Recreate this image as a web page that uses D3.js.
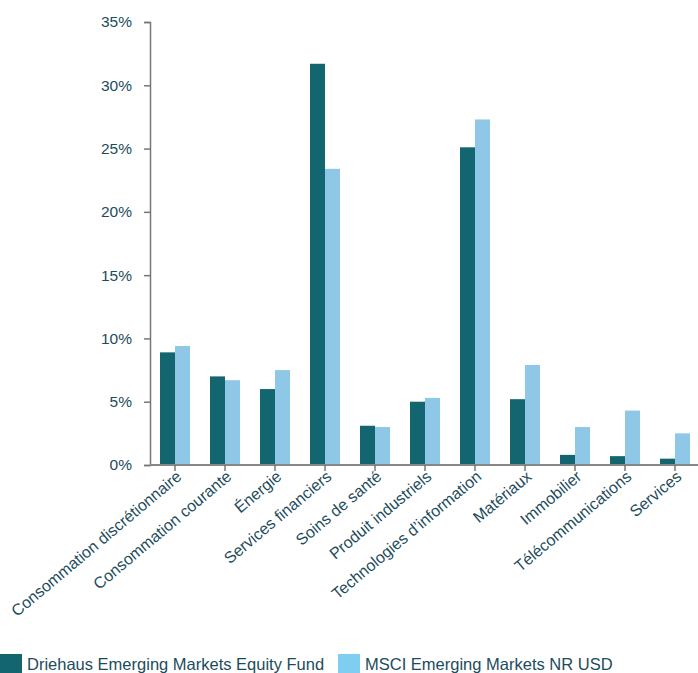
<!DOCTYPE html>
<html>
<head>
<meta charset="utf-8">
<script src="https://cdn.jsdelivr.net/npm/d3@7"></script>
<style>
  body { margin: 0; background: #fff; }
  text { font-family: "Liberation Sans", Arial, sans-serif; }
</style>
</head>
<body>
<div id="chart"></div>
<script>
var categories = ["Consommation discrétionnaire", "Consommation courante", "Énergie",
    "Services financiers", "Soins de santé", "Produit industriels",
    "Technologies d\u2019information", "Matériaux", "Immobilier",
    "Télécommunications", "Services"];
var seriesNames = ["Driehaus Emerging Markets Equity Fund", "MSCI Emerging Markets NR USD"];
var fundValues  = [8.9, 7.0, 6.0, 31.7, 3.1, 5.0, 25.1, 5.2, 0.8, 0.7, 0.5];
var indexValues = [9.4, 6.7, 7.5, 23.4, 3.0, 5.3, 27.3, 7.9, 3.0, 4.3, 2.5];
var yTicks = [0, 5, 10, 15, 20, 25, 30, 35];

var width = 698, height = 673;
var margin = {top: 22, right: 0, bottom: 208, left: 150};
var textColor = "#1c4c5c";
var barColors = ["#13666f", "#8fc8e6"];
var legendColors = ["#13666f", "#7fcdf0"];
var fontStack = "'Liberation Sans', Arial, sans-serif";

var svg = d3.select("#chart").append("svg")
    .attr("width", width)
    .attr("height", height);

//////// SCALES ////////
var x0 = d3.scaleBand()
    .domain(categories)
    .range([margin.left, 700])
    .paddingInner(0.4)
    .paddingOuter(0.2);

var x1 = d3.scaleBand()
    .domain([0, 1])
    .range([0, x0.bandwidth()]);

var y = d3.scaleLinear()
    .domain([0, 35])
    .range([height - margin.bottom, margin.top]);

var rows = categories.map(function(c, i) { return {cat: c, values: [fundValues[i], indexValues[i]]}; });

//////// BARS ////////
svg.append("g")
  .selectAll("g")
  .data(rows)
  .enter().append("g")
    .attr("transform", function(d) { return "translate(" + x0(d.cat) + ",0)"; })
  .selectAll("rect")
  .data(function(d) { return d.values.map(function(v, k) { return {k: k, v: v}; }); })
  .enter().append("rect")
    .attr("x", function(d) { return x1(d.k); })
    .attr("y", function(d) { return y(d.v); })
    .attr("width", x1.bandwidth())
    .attr("height", function(d) { return y(0) - y(d.v); })
    .attr("fill", function(d) { return barColors[d.k]; });

//////// AXES ////////
var yAxis = svg.append("g")
    .attr("transform", "translate(" + margin.left + ",0)")
    .call(d3.axisLeft(y).tickValues(yTicks).tickFormat(function(d) { return d + "%"; }).tickSize(6).tickPadding(12));
yAxis.select(".domain").attr("stroke", "#777").attr("stroke-width", 1.5);
yAxis.selectAll(".tick line").attr("stroke", "#777").attr("stroke-width", 1.5);
yAxis.selectAll(".tick text")
    .attr("fill", textColor)
    .attr("font-size", 15.5)
    .attr("font-family", fontStack);

var xAxis = svg.append("g")
    .attr("transform", "translate(0," + y(0) + ")")
    .call(d3.axisBottom(x0).tickSize(6).tickSizeOuter(0));
xAxis.select(".domain").attr("stroke", "#888").attr("stroke-width", 2)
    .attr("d", "M" + margin.left + ",0H" + width);
xAxis.selectAll(".tick line").attr("stroke", "#777").attr("stroke-width", 1.5);
xAxis.selectAll(".tick text")
    .attr("fill", textColor)
    .attr("font-size", 16)
    .attr("font-family", fontStack)
    .attr("text-anchor", "end")
    .attr("dy", "0.35em")
    .attr("transform", "translate(4,9) rotate(-40)")
    .attr("y", 0)
    .attr("x", 0);

//////// LEGEND ////////
var legend = svg.append("g")
    .attr("transform", "translate(0," + 654 + ")");

var lx = [0, 338];
var item = legend.selectAll("g")
    .data(seriesNames)
    .enter().append("g")
    .attr("transform", function(d, i) { return "translate(" + lx[i] + ",0)"; });

item.append("rect")
    .attr("width", 22)
    .attr("height", 20)
    .attr("fill", function(d, i) { return legendColors[i]; });

item.append("text")
    .attr("x", 27)
    .attr("y", 10)
    .attr("dy", "0.35em")
    .attr("fill", textColor)
    .attr("font-size", 16.5)
    .attr("font-family", fontStack)
    .text(function(d) { return d; });
</script>
</body>
</html>
